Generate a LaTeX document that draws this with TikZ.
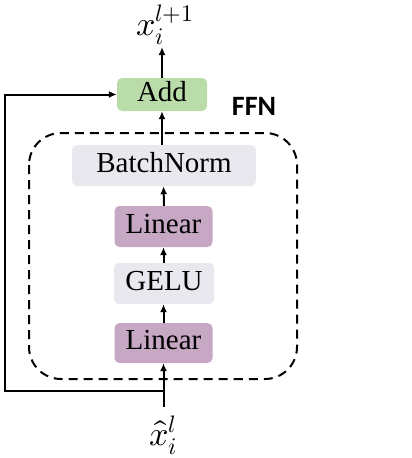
\documentclass[tikz,border=0pt]{standalone}
\usepackage{fontspec}
\usepackage{unicode-math}
\setmainfont{Liberation Serif}
\setmathfont{Latin Modern Math}
\newfontfamily\ffnfont{Carlito}
\usetikzlibrary{arrows.meta}
\definecolor{addgreen}{HTML}{B9DCA9}
\definecolor{linpurple}{HTML}{C6A7C4}
\definecolor{lightgray}{HTML}{E8E8EE}
\tikzset{
  blk/.style={rounded corners=5pt, inner sep=0pt, font=\fontsize{29}{31}\selectfont, text height=19pt, text depth=6pt},
  addbox/.style={blk, fill=addgreen, minimum width=90pt, minimum height=33pt},
  linbox/.style={blk, fill=linpurple, minimum width=98pt, minimum height=41pt},
  graybox/.style={blk, fill=lightgray, minimum height=41pt},
  arr/.style={line width=2pt, -{Latex[length=8pt,width=7pt]}},
  lbl/.style={font=\fontsize{34}{36}\selectfont, inner xsep=0pt}
}
\begin{document}
\begin{tikzpicture}[x=1pt,y=-1pt]
\useasboundingbox (0,0) rectangle (412,458);
\draw[line width=2pt, dash pattern=on 9pt off 6pt, rounded corners=32pt] (29,133) rectangle (297,379);
\node[addbox] (add) at (162,94.5) {Add};
\node[graybox, minimum width=184pt] (bn) at (164,165.5) {BatchNorm};
\node[linbox] (lin1) at (163.5,226.5) {Linear};
\node[graybox, minimum width=100pt] (gelu) at (164,283.5) {GELU};
\node[linbox, minimum height=40pt] (lin2) at (163.5,343) {Linear};
\node[lbl, anchor=south, inner ysep=2pt] (xout) at (165,47) {$x_i^{l+1}$};
\node[lbl, anchor=north, inner ysep=9pt] (xin) at (163.5,407) {$\hat{x}_i^{l}$};
\node[font=\ffnfont\bfseries\fontsize{28}{30}\selectfont, inner sep=0pt] (ffn) at (254,106) {FFN};
\coordinate (j) at (163.5,391);
\coordinate (c1) at (5,391);
\coordinate (c2) at (5,94.5);
\draw[arr] (add.north) -- (add.north |- xout.south);
\draw[arr] (bn.north -| add.south) -- (add.south);
\draw[arr] (lin1.north -| bn.south) -- (bn.south -| lin1.north);
\draw[arr] (gelu.north -| lin1.south) -- (lin1.south);
\draw[arr] (lin2.north) -- (gelu.south -| lin2.north);
\draw[arr] (xin.north -| lin2.south) -- (lin2.south);
\draw[arr] (j) -- (c1) -- (c2) -- (add.west);
\end{tikzpicture}
\end{document}
